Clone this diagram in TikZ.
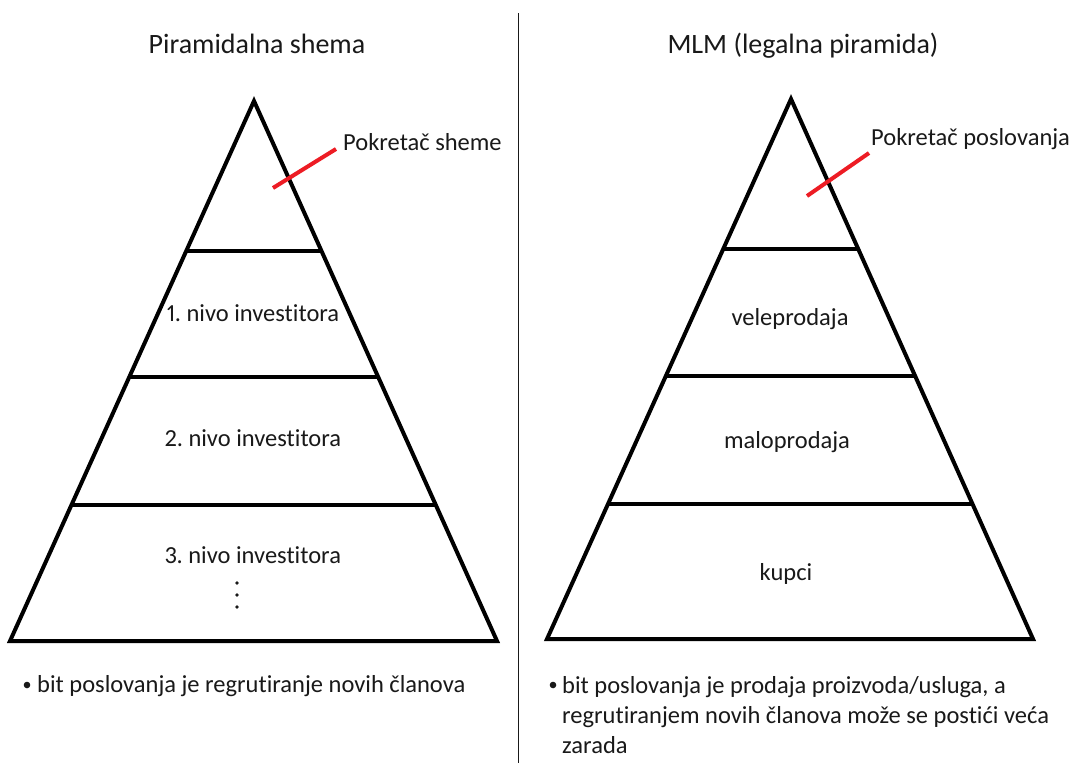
\documentclass[tikz,border=0pt]{standalone}
\usepackage{fontspec}
\setmainfont{Carlito}[Ligatures={NoCommon,NoRare},Numbers=Proportional]
\frenchspacing
\definecolor{txt}{RGB}{25,25,25}
\definecolor{pred}{RGB}{237,28,36}
\begin{document}
\begin{tikzpicture}[x=1pt,y=-1pt,
  lbl/.style={inner sep=0pt,anchor=base,text=txt,font=\fontsize{24.5}{29}\selectfont},
  ttl/.style={inner sep=0pt,anchor=base,text=txt,font=\fontsize{28}{33}\selectfont},
  tri/.style={line width=4pt,line join=miter},
  divl/.style={line width=3.6pt},
  ptr/.style={pred,line width=4pt},
  sep/.style={line width=1.5pt,draw=txt}]
\useasboundingbox (0,0) rectangle (1078,763);
\fill[white] (0,0) rectangle (1078,763);
% separator
\coordinate (s1) at (518.5,13);
\coordinate (s2) at (518.5,763);
\draw[sep] (s1) -- (s2);
% titles
\node[ttl] (tA) at (257,53) {Piramidalna shema};
\node[ttl] (tB) at (803,53) {MLM (legalna piramida)};
% left pyramid
\coordinate (LA) at (254,101);
\coordinate (LL) at (10,641);
\coordinate (LR) at (497,641);
\draw[tri] (LA) -- (LL) -- (LR) -- cycle;
\foreach \y/\n in {251/l1,377/l2,505/l3}{
  \path (LA) -- (LL) coordinate[pos={(\y-101)/540}] (\n a);
  \path (LA) -- (LR) coordinate[pos={(\y-101)/540}] (\n b);
  \draw[divl] (\n a) -- (\n b);
}
\node[lbl] (L1) at (253,321) {1. nivo investitora};
\node[lbl] (L2) at (253,446) {2. nivo investitora};
\node[lbl] (L3) at (253,563) {3. nivo investitora};
\foreach \y in {583,595,607} \fill[txt] (237,\y) circle (1.8);
\node[lbl,anchor=base west] (LP) at (343,150) {Pokretač sheme};
\coordinate (LPs) at (273,188);
\coordinate (LPe) at (336,149);
\draw[ptr] (LPs) -- (LPe);
% right pyramid
\coordinate (RA) at (791,99);
\coordinate (RL) at (547,639);
\coordinate (RR) at (1033,639);
\draw[tri] (RA) -- (RL) -- (RR) -- cycle;
\foreach \y/\n in {249/r1,376/r2,504/r3}{
  \path (RA) -- (RL) coordinate[pos={(\y-99)/540}] (\n a);
  \path (RA) -- (RR) coordinate[pos={(\y-99)/540}] (\n b);
  \draw[divl] (\n a) -- (\n b);
}
\node[lbl] (R1) at (790,325) {veleprodaja};
\node[lbl] (R2) at (787,448) {maloprodaja};
\node[lbl] (R3) at (786,580) {kupci};
\node[lbl,anchor=base west] (RP) at (871,145) {Pokretač poslovanja};
\coordinate (RPs) at (807,196);
\coordinate (RPe) at (869,153);
\draw[ptr] (RPs) -- (RPe);
% bottom texts
\fill[txt] (27,685) circle (3.3);
\node[lbl,anchor=base west] (BL) at (37,692) {bit poslovanja je regrutiranje novih članova};
\fill[txt] (553,685) circle (3.3);
\node[lbl,anchor=base west] (BR1) at (562,693) {bit poslovanja je prodaja proizvoda/usluga, a};
\node[lbl,anchor=base west] (BR2) at (562,723) {regrutiranjem novih članova može se postići veća};
\node[lbl,anchor=base west] (BR3) at (562,753) {zarada};
\end{tikzpicture}
\end{document}
